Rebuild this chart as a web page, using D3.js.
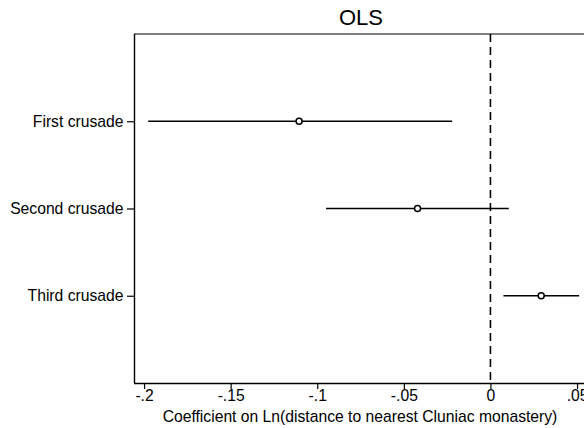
<!DOCTYPE html>
<html><head><meta charset="utf-8">
<script src="https://cdn.jsdelivr.net/npm/d3@7"></script>
<style>body{margin:0;background:#fff}svg{display:block}text{font-family:Arial,"Liberation Sans",sans-serif;fill:#000}</style>
</head><body>
<script>
const categories = ["First crusade", "Second crusade", "Third crusade"];
const estimates = [-0.1105, -0.0421, 0.0293];
const lowerCI = [-0.1976, -0.0949, 0.0075];
const upperCI = [-0.0221, 0.0106, 0.0512];
const xTicks = [-0.2, -0.15, -0.1, -0.05, 0, 0.05];
const xTickLabels = ["-.2", "-.15", "-.1", "-.05", "0", ".05"];
const title = "OLS";
const xTitle = "Coefficient on Ln(distance to nearest Cluniac monastery)";

const W = 584, H = 428;
const mLeft = 134, mTop = 34, mBottom = 383;
const svg = d3.select("body").append("svg").attr("width", W).attr("height", H);
const x = d3.scaleLinear().domain([-0.2058, 0.0576]).range([mLeft, mLeft + 0.2634 * 1732]);
const y = d3.scaleLinear().domain([0, 4]).range([mTop, mBottom]);

// frame
svg.append("line").attr("x1", mLeft).attr("x2", W + 5).attr("y1", mTop).attr("y2", mTop).attr("stroke", "#555").attr("stroke-width", 1.4);

// zero dashed line
svg.append("line").attr("x1", x(0)).attr("x2", x(0)).attr("y1", mTop).attr("y2", mBottom)
  .attr("stroke", "#000").attr("stroke-width", 1.6).attr("stroke-dasharray", "8,5");

// x axis
const xAxis = d3.axisBottom(x).tickValues(xTicks).tickFormat((d, i) => xTickLabels[i]).tickSize(6).tickSizeOuter(0);
const gx = svg.append("g").attr("transform", `translate(0,${mBottom})`).call(xAxis);
gx.select(".domain").attr("d", `M${mLeft},0.5H${W + 5}`).attr("stroke-width", 1.4);
gx.selectAll(".tick line").attr("stroke-width", 1.2);
gx.selectAll("text").attr("font-size", 15.7).attr("dy", null).attr("y", 18);

// y axis
const yAxis = d3.axisLeft(y).tickValues([1, 2, 3]).tickFormat((d) => categories[d - 1]).tickSize(7).tickSizeOuter(0);
const gy = svg.append("g").attr("transform", `translate(${mLeft},0)`).call(yAxis);
gy.select(".domain").attr("d", `M0.5,${mTop}V${mBottom}`).attr("stroke-width", 1.4);
gy.selectAll(".tick line").attr("stroke-width", 1.2);
gy.selectAll("text").attr("font-size", 15.7).attr("x", -10.5);

// CIs
const data = categories.map((c, i) => ({c, i, e: estimates[i], lo: lowerCI[i], hi: upperCI[i]}));
svg.append("g").selectAll("line").data(data).join("line")
  .attr("x1", d => x(d.lo)).attr("x2", d => x(d.hi))
  .attr("y1", d => y(d.i + 1)).attr("y2", d => y(d.i + 1))
  .attr("stroke", "#000").attr("stroke-width", 1.3);
svg.append("g").selectAll("circle").data(data).join("circle")
  .attr("cx", d => x(d.e)).attr("cy", d => y(d.i + 1)).attr("r", 3)
  .attr("fill", "#fff").attr("stroke", "#000").attr("stroke-width", 1.5);

// titles
svg.append("text").attr("x", 361).attr("y", 25).attr("text-anchor", "middle").attr("font-size", 22).text(title);
svg.append("text").attr("x", 360).attr("y", 422).attr("text-anchor", "middle").attr("font-size", 15.7).text(xTitle);
</script>
</body></html>
